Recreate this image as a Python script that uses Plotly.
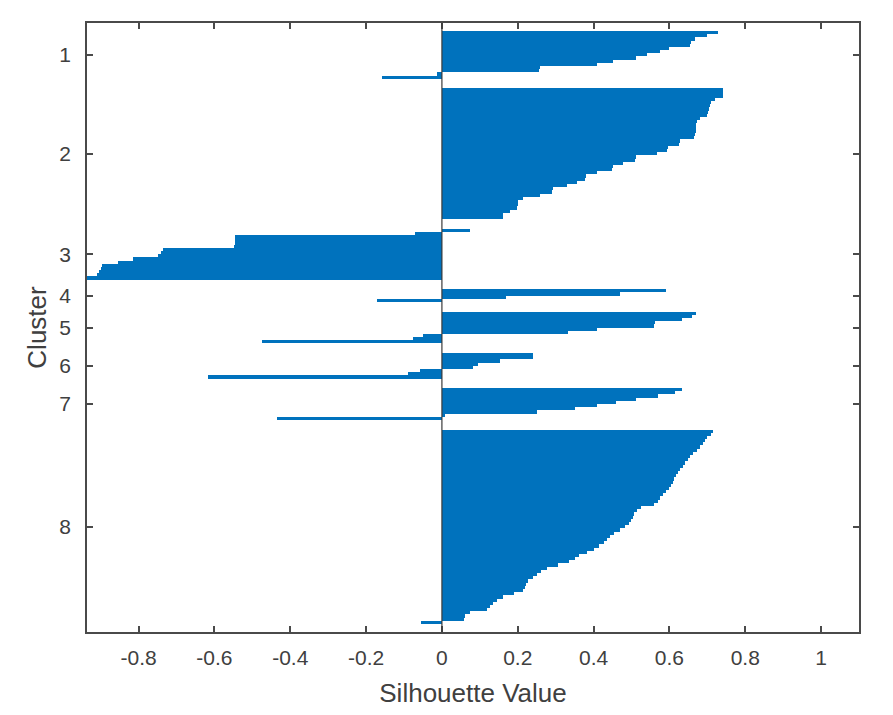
import plotly.graph_objects as go

# Silhouette values per cluster (sorted descending within cluster)
cluster_names = ["1", "2", "3", "4", "5", "6", "7", "8"]
s1 = [0.728, 0.70, 0.667, 0.658, 0.654, 0.60, 0.575, 0.54, 0.513, 0.45, 0.408, 0.258, 0.257, -0.014, -0.159]
s2 = [0.742, 0.742, 0.741, 0.72, 0.71, 0.708, 0.705, 0.702, 0.70, 0.68,
      0.672, 0.671, 0.67, 0.669, 0.667, 0.665, 0.627, 0.625, 0.596, 0.594,
      0.566, 0.513, 0.51, 0.478, 0.451, 0.448, 0.408, 0.381, 0.378, 0.355,
      0.329, 0.293, 0.29, 0.258, 0.214, 0.20, 0.20, 0.198, 0.18, 0.161, 0.16]
s3 = [0.074, -0.071, -0.546, -0.546, -0.547, -0.548, -0.735, -0.74, -0.748, -0.814,
      -0.854, -0.897, -0.90, -0.905, -0.91, -0.936]
s4 = [0.592, 0.47, 0.17, -0.172]
s5 = [0.671, 0.66, 0.632, 0.562, 0.56, 0.408, 0.333, -0.05, -0.076, -0.475]
s6 = [0.241, 0.24, 0.153, 0.095, 0.082, -0.058, -0.089, -0.617]
s7 = [0.632, 0.614, 0.57, 0.513, 0.46, 0.408, 0.35, 0.25, 0.008, -0.436]
s8 = [0.715, 0.71, 0.70, 0.695, 0.688, 0.68, 0.672, 0.662, 0.655, 0.648,
      0.642, 0.636, 0.628, 0.622, 0.617, 0.613, 0.609, 0.603, 0.598, 0.592,
      0.584, 0.576, 0.57, 0.56, 0.525, 0.515, 0.507, 0.503, 0.499, 0.494,
      0.483, 0.47, 0.455, 0.442, 0.435, 0.427, 0.415, 0.40, 0.382, 0.362,
      0.35, 0.335, 0.305, 0.277, 0.262, 0.252, 0.24, 0.228, 0.223, 0.218,
      0.214, 0.19, 0.16, 0.145, 0.134, 0.126, 0.118, 0.075, 0.061, 0.058, -0.054]
clusters = [s1, s2, s3, s4, s5, s6, s7, s8]

x_ticks = [-0.8, -0.6, -0.4, -0.2, 0, 0.2, 0.4, 0.6, 0.8, 1]
x_tick_text = ["-0.8", "-0.6", "-0.4", "-0.2", "0", "0.2", "0.4", "0.6", "0.8", "1"]

# Layout of bars, as in MATLAB's silhouette(): gaps of `space` empty rows
n = sum(len(c) for c in clusters)
space = max(int(0.02 * n), 2)
bars = [None] * space
ends = []
for c in clusters:
    bars += list(c) + [None] * space
    ends.append(len(bars))
ticks = []
prev = space
for e in ends:
    ticks.append(e - 0.5 * ((e - prev) + space - 1))
    prev = e
positions = list(range(1, len(bars) + 1))
L = len(bars)

BLUE = "#0072BD"
AX = "#4a4a4a"
TXT = "#404040"
FONT = "Liberation Sans, Arial, sans-serif"

fig = go.Figure(go.Bar(
    x=bars, y=positions, orientation="h", width=1.0,
    marker=dict(color=BLUE, line=dict(width=0)),
    hoverinfo="x",
))

fig.update_layout(
    width=893, height=715,
    margin=dict(l=79, r=42, t=15, b=91),
    paper_bgcolor="white",
    plot_bgcolor="white",
    bargap=0,
    showlegend=False,
    font=dict(family=FONT, color=TXT, size=21),
    shapes=[
        dict(type="line", xref="x", yref="paper", x0=0, x1=0, y0=0, y1=1,
             line=dict(color="#3a3a3a", width=1.2), layer="above"),
    ],
)

fig.update_xaxes(
    range=[-0.936, 1.1], tickvals=x_ticks, ticktext=x_tick_text,
    showgrid=False, zeroline=False,
    showline=True, linecolor=AX, linewidth=1.5, mirror="ticks",
    ticks="inside", ticklen=6, tickcolor=AX, tickwidth=1.5,
    ticklabelstandoff=6,
    tickfont=dict(size=21, family=FONT, color=TXT),
    title=dict(text="Silhouette Value", font=dict(size=26, family=FONT, color=TXT), standoff=16),
)
fig.update_yaxes(
    range=[L, 1], tickvals=ticks, ticktext=cluster_names,
    showgrid=False, zeroline=False,
    showline=True, linecolor=AX, linewidth=1.5, mirror="ticks",
    ticks="inside", ticklen=6, tickcolor=AX, tickwidth=1.5,
    ticklabelstandoff=10,
    tickfont=dict(size=21, family=FONT, color=TXT),
    title=dict(text="Cluster", font=dict(size=26, family=FONT, color=TXT), standoff=5),
)

fig.write_html("out.html")
